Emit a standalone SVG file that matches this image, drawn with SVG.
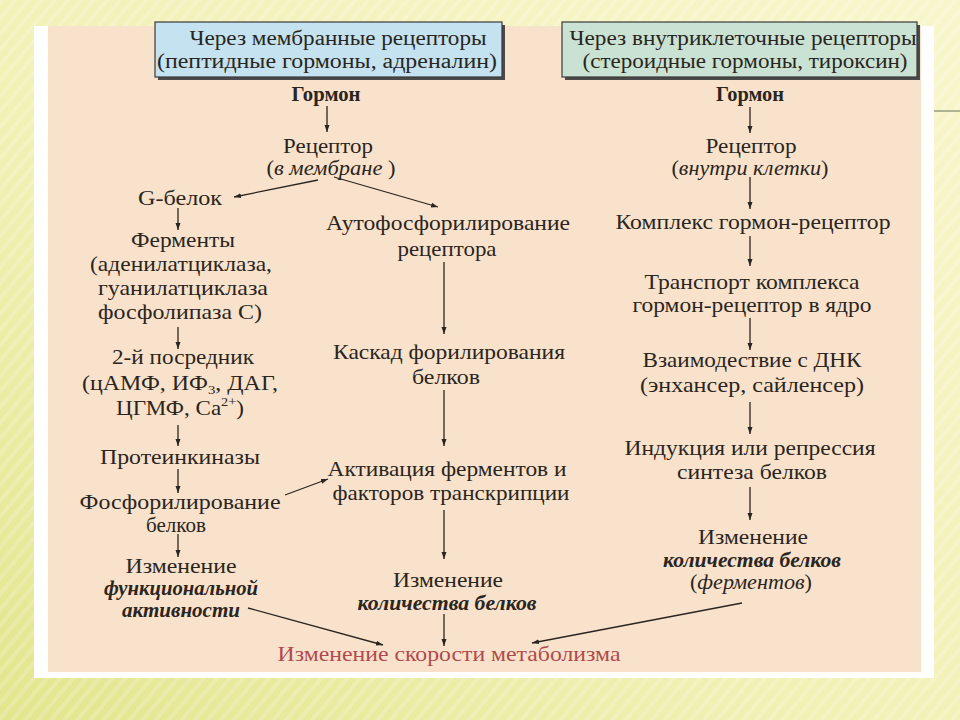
<svg xmlns="http://www.w3.org/2000/svg" width="960" height="720" viewBox="0 0 960 720">
  <defs>
    <linearGradient id="bg" x1="1" y1="0" x2="0" y2="1">
      <stop offset="0" stop-color="#f8f6cc"/>
      <stop offset="0.6" stop-color="#f1f0b4"/>
      <stop offset="1" stop-color="#e3e58e"/>
    </linearGradient>
    <pattern id="stripes" width="10" height="10" patternUnits="userSpaceOnUse" patternTransform="rotate(40)">
      <rect width="4" height="10" fill="#ffffff" opacity="0.18"/>
    </pattern>
    <marker id="ah" markerUnits="userSpaceOnUse" markerWidth="8" markerHeight="6" refX="7" refY="2.5" orient="auto">
      <path d="M0,0 L7,2.5 L0,5 z" fill="#2a2520"/>
    </marker>
    <style>
      .t { font-family: "Liberation Serif", "Times New Roman", serif; font-size: 21px; fill: #2a2520; text-anchor: middle; }
      .h { font-family: "Liberation Serif", "Times New Roman", serif; font-size: 20px; fill: #2a2520; text-anchor: middle; }
      .b { font-weight: bold; }
      .i { font-style: italic; }
      .bi { font-weight: bold; font-style: italic; }
      .red { fill: #b04a4e; }
      .c { stroke: #2a2520; stroke-width: 1.3; fill: none; marker-end: url(#ah); }
    </style>
  </defs>

  <!-- slide background -->
  <rect x="0" y="0" width="960" height="720" fill="url(#bg)"/>
  <rect x="0" y="0" width="960" height="720" fill="url(#stripes)"/>
  <line x1="934" y1="111" x2="960" y2="111" stroke="#9a9a82" stroke-width="1.5"/>

  <!-- picture frame -->
  <rect x="34" y="26" width="900" height="652" fill="#ffffff"/>
  <rect x="48" y="26" width="873" height="646" fill="#f9e2cb"/>

  <!-- header boxes -->
  <g id="header-membrane">
    <rect x="158" y="25" width="347" height="55" fill="#4a4a4a"/>
    <rect x="155" y="22" width="347" height="55" fill="#c4e2ef" stroke="#3a3a3a" stroke-width="1.2"/>
    <text class="h" x="338" y="45" textLength="297" lengthAdjust="spacingAndGlyphs">Через мембранные рецепторы</text>
    <text class="h" x="327" y="68" textLength="340" lengthAdjust="spacingAndGlyphs">(пептидные гормоны, адреналин)</text>
  </g>
  <g id="header-intracellular">
    <rect x="565" y="25" width="355" height="55" fill="#4a4a4a"/>
    <rect x="562" y="22" width="355" height="55" fill="#cae2d3" stroke="#3a3a3a" stroke-width="1.2"/>
    <text class="h" x="743" y="45" textLength="347" lengthAdjust="spacingAndGlyphs">Через внутриклеточные рецепторы</text>
    <text class="h" x="745" y="68" textLength="325" lengthAdjust="spacingAndGlyphs">(стероидные гормоны, тироксин)</text>
  </g>

  <!-- left branch -->
  <g id="hormone-left"><text class="t b" x="326" y="101" textLength="69" lengthAdjust="spacingAndGlyphs">Гормон</text></g>
  <g id="receptor-membrane">
    <text class="t" x="328" y="153" textLength="90" lengthAdjust="spacingAndGlyphs">Рецептор</text>
    <text class="t" x="331" y="175" textLength="129" lengthAdjust="spacingAndGlyphs">(<tspan class="i">в мембране</tspan> )</text>
  </g>
  <g id="g-protein"><text class="t" x="180" y="205" textLength="84" lengthAdjust="spacingAndGlyphs">G-белок</text></g>
  <g id="enzymes">
    <text class="t" x="183" y="247" textLength="104" lengthAdjust="spacingAndGlyphs">Ферменты</text>
    <text class="t" x="181" y="271" textLength="182" lengthAdjust="spacingAndGlyphs">(аденилатциклаза,</text>
    <text class="t" x="183" y="295" textLength="170" lengthAdjust="spacingAndGlyphs">гуанилатциклаза</text>
    <text class="t" x="180" y="319" textLength="164" lengthAdjust="spacingAndGlyphs">фосфолипаза С)</text>
  </g>
  <g id="second-messenger">
    <text class="t" x="183" y="364" textLength="142" lengthAdjust="spacingAndGlyphs">2-й посредник</text>
    <text class="t" x="180" y="390" textLength="196" lengthAdjust="spacingAndGlyphs">(цАМФ, ИФ<tspan font-size="13" dy="4">3</tspan><tspan dy="-4">, ДАГ,</tspan></text>
    <text class="t" x="180" y="415" textLength="128" lengthAdjust="spacingAndGlyphs">ЦГМФ, Ca<tspan font-size="13" dy="-9">2+</tspan><tspan dy="9">)</tspan></text>
  </g>
  <g id="protein-kinases"><text class="t" x="180" y="464" textLength="160" lengthAdjust="spacingAndGlyphs">Протеинкиназы</text></g>
  <g id="phosphorylation">
    <text class="t" x="180" y="509" textLength="201" lengthAdjust="spacingAndGlyphs">Фосфорилирование</text>
    <text class="t" x="176" y="532" textLength="60" lengthAdjust="spacingAndGlyphs">белков</text>
  </g>
  <g id="change-activity">
    <text class="t" x="181" y="573" textLength="111" lengthAdjust="spacingAndGlyphs">Изменение</text>
    <text class="t bi" x="181" y="595" textLength="154" lengthAdjust="spacingAndGlyphs">функциональной</text>
    <text class="t bi" x="181" y="617" textLength="118" lengthAdjust="spacingAndGlyphs">активности</text>
  </g>

  <!-- middle branch -->
  <g id="autophosphorylation">
    <text class="t" x="448" y="230" textLength="244" lengthAdjust="spacingAndGlyphs">Аутофосфорилирование</text>
    <text class="t" x="447" y="256" textLength="99" lengthAdjust="spacingAndGlyphs">рецептора</text>
  </g>
  <g id="cascade">
    <text class="t" x="449" y="359" textLength="232" lengthAdjust="spacingAndGlyphs">Каскад форилирования</text>
    <text class="t" x="446" y="384" textLength="68" lengthAdjust="spacingAndGlyphs">белков</text>
  </g>
  <g id="activation">
    <text class="t" x="447" y="476" textLength="239" lengthAdjust="spacingAndGlyphs">Активация ферментов и</text>
    <text class="t" x="451" y="500" textLength="237" lengthAdjust="spacingAndGlyphs">факторов транскрипции</text>
  </g>
  <g id="change-amount-mid">
    <text class="t" x="448" y="587" textLength="110" lengthAdjust="spacingAndGlyphs">Изменение</text>
    <text class="t bi" x="447" y="610" textLength="179" lengthAdjust="spacingAndGlyphs">количества белков</text>
  </g>
  <g id="metabolism-rate">
    <text class="t red" x="449" y="661" textLength="343" lengthAdjust="spacingAndGlyphs">Изменение скорости метаболизма</text>
  </g>

  <!-- right branch -->
  <g id="hormone-right"><text class="t b" x="750" y="101" textLength="68" lengthAdjust="spacingAndGlyphs">Гормон</text></g>
  <g id="receptor-inside">
    <text class="t" x="751" y="153" textLength="91" lengthAdjust="spacingAndGlyphs">Рецептор</text>
    <text class="t" x="750" y="175" textLength="157" lengthAdjust="spacingAndGlyphs">(<tspan class="i">внутри клетки</tspan>)</text>
  </g>
  <g id="complex"><text class="t" x="753" y="229" textLength="275" lengthAdjust="spacingAndGlyphs">Комплекс гормон-рецептор</text></g>
  <g id="transport">
    <text class="t" x="752" y="289" textLength="215" lengthAdjust="spacingAndGlyphs">Транспорт комплекса</text>
    <text class="t" x="752" y="312" textLength="239" lengthAdjust="spacingAndGlyphs">гормон-рецептор в ядро</text>
  </g>
  <g id="dna-interaction">
    <text class="t" x="752" y="367" textLength="219" lengthAdjust="spacingAndGlyphs">Взаимодествие с ДНК</text>
    <text class="t" x="752" y="392" textLength="224" lengthAdjust="spacingAndGlyphs">(энхансер, сайленсер)</text>
  </g>
  <g id="induction">
    <text class="t" x="750" y="455" textLength="251" lengthAdjust="spacingAndGlyphs">Индукция или репрессия</text>
    <text class="t" x="752" y="479" textLength="150" lengthAdjust="spacingAndGlyphs">синтеза белков</text>
  </g>
  <g id="change-amount-right">
    <text class="t" x="753" y="544" textLength="110" lengthAdjust="spacingAndGlyphs">Изменение</text>
    <text class="t bi" x="752" y="567" textLength="178" lengthAdjust="spacingAndGlyphs">количества белков</text>
    <text class="t" x="751" y="589" textLength="122" lengthAdjust="spacingAndGlyphs">(<tspan class="i">ферментов</tspan>)</text>
  </g>

  <!-- connectors -->
  <g id="connectors">
    <line class="c" x1="327" y1="106" x2="327" y2="132"/>
    <line class="c" x1="318" y1="180" x2="234" y2="197"/>
    <line class="c" x1="334" y1="177" x2="438" y2="207"/>
    <line class="c" x1="178" y1="208" x2="178" y2="230"/>
    <line class="c" x1="178" y1="327" x2="178" y2="349"/>
    <line class="c" x1="178" y1="425" x2="178" y2="446"/>
    <line class="c" x1="178" y1="469" x2="178" y2="493"/>
    <line class="c" x1="178" y1="534" x2="178" y2="557"/>
    <line class="c" x1="285" y1="495" x2="328" y2="479"/>
    <line class="c" x1="248" y1="608" x2="383" y2="645"/>
    <line class="c" x1="444" y1="262" x2="444" y2="334"/>
    <line class="c" x1="444" y1="390" x2="444" y2="446"/>
    <line class="c" x1="444" y1="510" x2="444" y2="559"/>
    <line class="c" x1="444" y1="614" x2="444" y2="646"/>
    <line class="c" x1="750" y1="107" x2="750" y2="133"/>
    <line class="c" x1="750" y1="177" x2="750" y2="209"/>
    <line class="c" x1="750" y1="236" x2="750" y2="266"/>
    <line class="c" x1="750" y1="318" x2="750" y2="350"/>
    <line class="c" x1="750" y1="402" x2="750" y2="434"/>
    <line class="c" x1="750" y1="487" x2="750" y2="520"/>
    <line class="c" x1="742" y1="603" x2="532" y2="643"/>
  </g>
</svg>
